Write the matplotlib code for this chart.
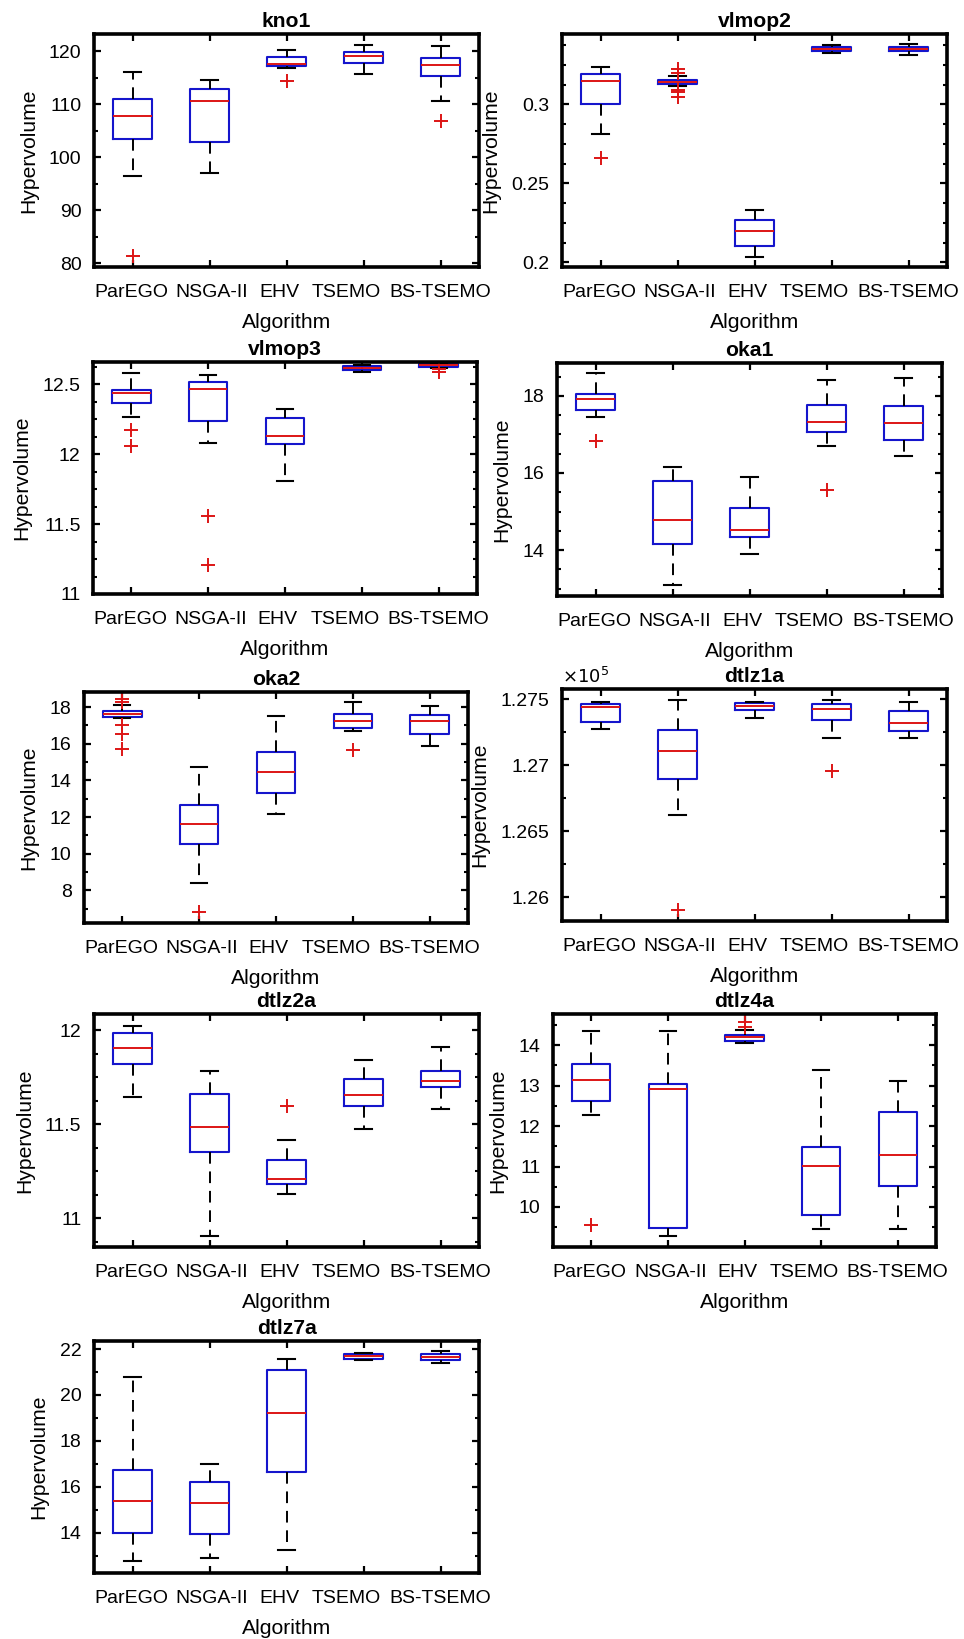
import matplotlib
matplotlib.use("Agg")
import matplotlib.pyplot as plt
import matplotlib.transforms as mtransforms
from matplotlib.ticker import AutoMinorLocator, FuncFormatter, FixedLocator

plt.rcParams['font.family'] = ['Liberation Sans', 'DejaVu Sans']

algorithms = ["ParEGO", "NSGA-II", "EHV", "TSEMO", "BS-TSEMO"]

# ---- data: per problem, boxplot statistics per algorithm ----
kno1_lo = [96.4, 97.0, 116.9, 115.7, 110.7]
kno1_q1 = [103.5, 102.9, 117.2, 117.8, 115.3]
kno1_med = [107.8, 110.7, 117.6, 119.2, 117.4]
kno1_q3 = [111.0, 112.9, 118.9, 119.9, 118.7]
kno1_hi = [116.2, 114.6, 120.2, 121.2, 121.1]
kno1_out = [[81.3], [], [114.5], [], [106.9]]

vlmop2_lo = [0.281, 0.3117, 0.2036, 0.3324, 0.3311]
vlmop2_q1 = [0.300, 0.3129, 0.210, 0.3335, 0.3335]
vlmop2_med = [0.315, 0.3141, 0.2195, 0.3351, 0.3350]
vlmop2_q3 = [0.3189, 0.3155, 0.2269, 0.3362, 0.3362]
vlmop2_hi = [0.3237, 0.318, 0.2333, 0.3373, 0.3379]
vlmop2_out = [[0.2661], [0.3222, 0.3197, 0.3091, 0.3080, 0.3049], [], [], []]

vlmop3_lo = [12.267, 12.081, 11.812, 12.585, 12.62]
vlmop3_q1 = [12.367, 12.24, 12.071, 12.60, 12.626]
vlmop3_med = [12.436, 12.469, 12.133, 12.617, 12.636]
vlmop3_q3 = [12.462, 12.514, 12.257, 12.63, 12.648]
vlmop3_hi = [12.583, 12.564, 12.326, 12.64, 12.655]
vlmop3_out = [[12.171, 12.057], [11.56, 11.207], [], [], [12.665, 12.61, 12.59]]

oka1_lo = [17.45, 13.10, 13.90, 16.69, 16.44]
oka1_q1 = [17.62, 14.15, 14.35, 17.06, 16.85]
oka1_med = [17.92, 14.79, 14.51, 17.31, 17.30]
oka1_q3 = [18.04, 15.78, 15.08, 17.75, 17.73]
oka1_hi = [18.58, 16.15, 15.90, 18.42, 18.47]
oka1_out = [[16.82], [], [], [15.57], []]

oka2_lo = [17.40, 8.42, 12.18, 16.69, 15.85]
oka2_q1 = [17.45, 10.51, 13.29, 16.85, 16.55]
oka2_med = [17.62, 11.64, 14.45, 17.24, 17.24]
oka2_q3 = [17.76, 12.64, 15.53, 17.64, 17.58]
oka2_hi = [18.09, 14.75, 17.51, 18.25, 18.07]
oka2_out = [[18.45, 18.27, 17.0, 16.51, 15.69], [6.8], [], [15.67], []]

dtlz1a_lo = [127275, 126621, 127356, 127210, 127210]
dtlz1a_q1 = [127328, 126896, 127419, 127343, 127260]
dtlz1a_med = [127442, 127106, 127447, 127429, 127323]
dtlz1a_q3 = [127465, 127265, 127475, 127462, 127409]
dtlz1a_hi = [127480, 127495, 127480, 127495, 127482]
dtlz1a_out = [[], [125904], [], [126960], []]

dtlz2a_lo = [11.647, 10.904, 11.128, 11.473, 11.582]
dtlz2a_q1 = [11.819, 11.353, 11.183, 11.599, 11.697]
dtlz2a_med = [11.902, 11.486, 11.209, 11.654, 11.730]
dtlz2a_q3 = [11.982, 11.661, 11.310, 11.741, 11.784]
dtlz2a_hi = [12.023, 11.784, 11.418, 11.840, 11.910]
dtlz2a_out = [[], [], [11.594], [], []]

dtlz4a_lo = [12.27, 9.27, 14.06, 9.46, 9.46]
dtlz4a_q1 = [12.63, 9.47, 14.11, 9.79, 10.52]
dtlz4a_med = [13.14, 12.92, 14.19, 11.01, 11.29]
dtlz4a_q3 = [13.54, 13.05, 14.26, 11.49, 12.34]
dtlz4a_hi = [14.34, 14.34, 14.37, 13.38, 13.11]
dtlz4a_out = [[9.55], [], [14.46, 14.56], [], []]

dtlz7a_lo = [12.78, 12.90, 13.27, 21.54, 21.38]
dtlz7a_q1 = [14.00, 13.93, 16.63, 21.58, 21.51]
dtlz7a_med = [15.37, 15.30, 19.22, 21.70, 21.65]
dtlz7a_q3 = [16.73, 16.21, 21.10, 21.78, 21.77]
dtlz7a_hi = [20.78, 17.00, 21.58, 21.84, 21.90]
dtlz7a_out = [[], [], [], [], []]

panels = [
    ("kno1", kno1_lo, kno1_q1, kno1_med, kno1_q3, kno1_hi, kno1_out),
    ("vlmop2", vlmop2_lo, vlmop2_q1, vlmop2_med, vlmop2_q3, vlmop2_hi, vlmop2_out),
    ("vlmop3", vlmop3_lo, vlmop3_q1, vlmop3_med, vlmop3_q3, vlmop3_hi, vlmop3_out),
    ("oka1", oka1_lo, oka1_q1, oka1_med, oka1_q3, oka1_hi, oka1_out),
    ("oka2", oka2_lo, oka2_q1, oka2_med, oka2_q3, oka2_hi, oka2_out),
    ("dtlz1a", dtlz1a_lo, dtlz1a_q1, dtlz1a_med, dtlz1a_q3, dtlz1a_hi, dtlz1a_out),
    ("dtlz2a", dtlz2a_lo, dtlz2a_q1, dtlz2a_med, dtlz2a_q3, dtlz2a_hi, dtlz2a_out),
    ("dtlz4a", dtlz4a_lo, dtlz4a_q1, dtlz4a_med, dtlz4a_q3, dtlz4a_hi, dtlz4a_out),
    ("dtlz7a", dtlz7a_lo, dtlz7a_q1, dtlz7a_med, dtlz7a_q3, dtlz7a_hi, dtlz7a_out),
]

# ---- layout (pixels: left, right, top, bottom) ----
W, H = 964, 1639
boxes_px = {
    "kno1": (94, 479, 34, 267),
    "vlmop2": (562, 947, 34, 267),
    "vlmop3": (93, 477, 362, 594),
    "oka1": (557, 942, 363, 596),
    "oka2": (84, 468, 692, 923),
    "dtlz1a": (562, 947, 689, 921),
    "dtlz2a": (94, 479, 1014, 1247),
    "dtlz4a": (553, 936, 1014, 1247),
    "dtlz7a": (94, 479, 1341, 1573),
}
ylims = {
    "kno1": (79.3, 123.3), "vlmop2": (0.197, 0.3445), "vlmop3": (11.0, 12.66),
    "oka1": (12.81, 18.85), "oka2": (6.22, 18.82), "dtlz1a": (125821, 127578),
    "dtlz2a": (10.848, 12.085), "dtlz4a": (9.01, 14.77), "dtlz7a": (12.25, 22.35),
}
yticks = {
    "kno1": [80, 90, 100, 110, 120], "vlmop2": [0.2, 0.25, 0.3],
    "vlmop3": [11, 11.5, 12, 12.5], "oka1": [14, 16, 18],
    "oka2": [8, 10, 12, 14, 16, 18], "dtlz1a": [126000, 126500, 127000, 127500],
    "dtlz2a": [11, 11.5, 12], "dtlz4a": [10, 11, 12, 13, 14],
    "dtlz7a": [14, 16, 18, 20, 22],
}
minor_n = {"kno1": 2, "vlmop2": 4, "vlmop3": 4, "oka1": 4, "oka2": 2,
           "dtlz1a": 2, "dtlz2a": 4, "dtlz4a": 2, "dtlz7a": 2}

# horizontal shift (pixels) of the category labels relative to their ticks
label_shift_px = [-1.5, 2.5, -7.5, -17, -0.5]

fig = plt.figure(figsize=(W / 100, H / 100), dpi=100)

TICK_FS = 14
LABEL_FS = 15.2
positions = [1, 2, 3, 4, 5]
BLUE = '#1515cc'
RED = '#dd1515'

for name, lo, q1, med, q3, hi, out in panels:
    l, r, t, b = boxes_px[name]
    ax = fig.add_axes([l / W, 1 - b / H, (r - l) / W, (b - t) / H])
    stats = []
    for i in range(5):
        stats.append(dict(whislo=lo[i], q1=q1[i], med=med[i], q3=q3[i],
                          whishi=hi[i], fliers=out[i]))
    ax.bxp(stats, positions=positions, widths=0.5, capwidths=0.21,
           showfliers=True,
           boxprops=dict(color=BLUE, linewidth=1.5),
           medianprops=dict(color=RED, linewidth=1.4),
           whiskerprops=dict(color='black', linewidth=1.4, linestyle=(0, (6, 4))),
           capprops=dict(color='black', linewidth=1.5),
           flierprops=dict(marker='+', markeredgecolor=RED, markersize=10.5,
                           markeredgewidth=1.4, linestyle='none'))
    ax.set_xlim(0.5, 5.5)
    ax.set_ylim(*ylims[name])
    ax.set_xticks(positions)
    ax.set_xticklabels(algorithms, fontsize=TICK_FS)
    ax.yaxis.set_major_locator(FixedLocator(yticks[name]))
    ax.yaxis.set_minor_locator(AutoMinorLocator(minor_n[name]))
    if name == "dtlz1a":
        ax.yaxis.set_major_formatter(FuncFormatter(lambda v, p: "%g" % (v / 1e5)))
        ax.text(0.0, 1.01, r"$\times10^5$", transform=ax.transAxes, fontsize=13,
                ha='left', va='bottom')
    else:
        ax.yaxis.set_major_formatter(FuncFormatter(lambda v, p: "%g" % v))
    ax.tick_params(axis='both', which='major', direction='in', length=5, width=1.6,
                   top=True, right=True, labelsize=TICK_FS)
    ax.tick_params(axis='x', which='major', pad=12)
    ax.tick_params(axis='y', which='major', pad=9)
    ax.tick_params(axis='y', which='minor', direction='in', length=3, width=1.5,
                   left=True, right=True)
    # shift the category labels (after tick_params, which resets transforms)
    for tick, dx in zip(ax.xaxis.get_major_ticks(), label_shift_px):
        lab = tick.label1
        lab.set_transform(lab.get_transform() +
                          mtransforms.ScaledTranslation(dx / 100, 0, fig.dpi_scale_trans))
    for sp in ax.spines.values():
        sp.set_linewidth(2.6)
    ax.set_title(name, fontsize=LABEL_FS, fontweight='bold', pad=5)
    ax.set_xlabel("Algorithm", fontsize=LABEL_FS, labelpad=9)
    ax.set_ylabel("Hypervolume", fontsize=LABEL_FS, labelpad=8)

fig.savefig("out.png", dpi=100, facecolor='white')
